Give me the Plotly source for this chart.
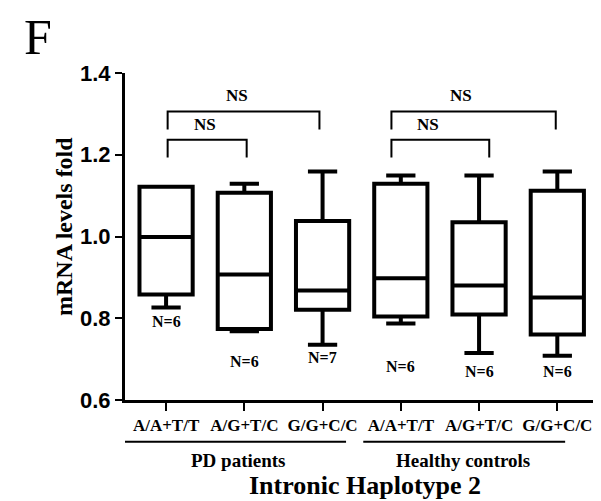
import plotly.graph_objects as go

categories = ["A/A+T/T", "A/G+T/C", "G/G+C/C", "A/A+T/T", "A/G+T/C", "G/G+C/C"]
groups = ["PD patients", "Healthy controls"]
q1 = [0.858, 0.774, 0.821, 0.804, 0.809, 0.760]
median = [0.999, 0.907, 0.868, 0.898, 0.880, 0.851]
q3 = [1.122, 1.107, 1.038, 1.129, 1.035, 1.112]
lower = [0.826, 0.768, 0.735, 0.787, 0.715, 0.708]
upper = [1.122, 1.129, 1.159, 1.149, 1.149, 1.159]
n_labels = ["N=6", "N=6", "N=7", "N=6", "N=6", "N=6"]
n_label_y = [0.791, 0.693, 0.705, 0.681, 0.669, 0.669]
ytick_vals = [0.6, 0.8, 1.0, 1.2, 1.4]

xs = list(range(len(categories)))

fig = go.Figure()
fig.add_trace(go.Box(
    x=xs, q1=q1, median=median, q3=q3, lowerfence=lower, upperfence=upper,
    width=0.68, whiskerwidth=0.55,
    line=dict(color="black", width=4), fillcolor="white",
    boxpoints=False, showlegend=False, hoverinfo="skip",
))

serif = "Liberation Serif, Times New Roman, serif"
sans = "Liberation Sans, Arial, sans-serif"

annotations = []
shapes = []
for i, (t, yy) in enumerate(zip(n_labels, n_label_y)):
    annotations.append(dict(x=xs[i], y=yy, xref="x", yref="y", text="<b>%s</b>" % t,
                            showarrow=False, yanchor="middle",
                            font=dict(family=serif, size=16, color="black")))

def bracket(x0, x1, ytop, ybot, label_y, label_x):
    shapes.append(dict(type="path", xref="x", yref="y",
                       path="M %f %f L %f %f L %f %f L %f %f" % (x0, ybot, x0, ytop, x1, ytop, x1, ybot),
                       line=dict(color="black", width=2)))
    annotations.append(dict(x=label_x, y=label_y, xref="x", yref="y", text="<b>NS</b>",
                            showarrow=False, yanchor="middle",
                            font=dict(family=serif, size=17, color="black")))

bracket(0.02, 1.96, 1.306, 1.262, 1.344, 0.91)
bracket(0.02, 1.03, 1.237, 1.193, 1.273, 0.5)
bracket(2.88, 4.98, 1.306, 1.262, 1.344, 3.77)
bracket(2.88, 4.13, 1.237, 1.193, 1.273, 3.35)

shapes.append(dict(type="line", xref="x", yref="paper", x0=-0.65, x1=2.3, y0=-0.128, y1=-0.128,
                   line=dict(color="black", width=2)))
shapes.append(dict(type="line", xref="x", yref="paper", x0=2.52, x1=5.1, y0=-0.128, y1=-0.128,
                   line=dict(color="black", width=2)))
annotations.append(dict(x=0.92, y=-0.186, xref="x", yref="paper", text="<b>%s</b>" % groups[0],
                        showarrow=False, yanchor="middle",
                        font=dict(family=serif, size=19, color="black")))
annotations.append(dict(x=3.79, y=-0.186, xref="x", yref="paper", text="<b>%s</b>" % groups[1],
                        showarrow=False, yanchor="middle",
                        font=dict(family=serif, size=19, color="black")))
annotations.append(dict(x=2.54, y=-0.262, xref="x", yref="paper", text="<b>Intronic Haplotype 2</b>",
                        showarrow=False, yanchor="middle",
                        font=dict(family=serif, size=26, color="black")))
annotations.append(dict(x=-0.129, y=0.532, xref="paper", yref="paper", text="<b>mRNA levels fold</b>",
                        showarrow=False, xanchor="center", yanchor="middle", textangle=-90,
                        font=dict(family=serif, size=24, color="black")))
annotations.append(dict(x=-0.184, y=1.110, xref="paper", yref="paper", text="F", showarrow=False,
                        xanchor="center", yanchor="middle",
                        font=dict(family=serif, size=50, color="black")))

# page body has an 8px default margin, so the figure is shrunk and shifted accordingly
fig.update_layout(
    width=593, height=493,
    margin=dict(l=117, r=3, t=65, b=101),
    plot_bgcolor="white", paper_bgcolor="white",
    xaxis=dict(range=[-0.525, 5.52], tickmode="array", tickvals=xs,
               ticktext=["<b>%s</b>" % c for c in categories],
               ticks="outside", ticklen=8, tickwidth=2, tickcolor="black",
               showline=True, linecolor="black", linewidth=3, showgrid=False, zeroline=False,
               automargin=False,
               tickfont=dict(family=serif, size=17, color="black")),
    yaxis=dict(range=[0.6, 1.4], tickmode="array", tickvals=ytick_vals,
               ticktext=["<b>%.1f</b>" % v for v in ytick_vals],
               ticks="outside", ticklen=7, tickwidth=2, tickcolor="black",
               showline=True, linecolor="black", linewidth=3, showgrid=False, zeroline=False,
               automargin=False,
               tickfont=dict(family=sans, size=22, color="black")),
    annotations=annotations, shapes=shapes,
)

fig.write_html("out.html")
